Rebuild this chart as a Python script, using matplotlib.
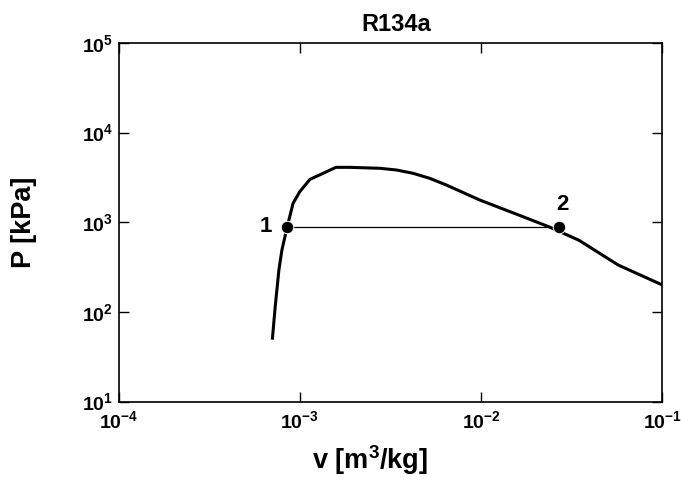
import matplotlib
matplotlib.use('Agg')
import matplotlib.pyplot as plt

plt.rcParams['font.family'] = ['Liberation Sans', 'DejaVu Sans']
plt.rcParams['font.weight'] = 'bold'
plt.rcParams['mathtext.fontset'] = 'custom'
plt.rcParams['mathtext.rm'] = 'Liberation Sans:bold'
plt.rcParams['mathtext.it'] = 'Liberation Sans:bold'
plt.rcParams['mathtext.bf'] = 'Liberation Sans:bold'
plt.rcParams['mathtext.default'] = 'regular'

# saturation dome
v_sat = [7.05e-4, 7.3e-4, 7.65e-4, 7.95e-4, 8.5e-4, 9.16e-4, 9.97e-4, 1.135e-3,
         1.315e-3, 1.58e-3, 1.89e-3, 2.76e-3, 3.41e-3, 4.22e-3, 5.21e-3, 6.44e-3,
         9.84e-3, 1.57e-2, 2.37e-2, 3.47e-2, 5.72e-2, 1.0e-1]
P_sat = [51, 114, 293, 490, 890, 1626, 2190, 3011,
         3451, 4100, 4100, 4000, 3830, 3514, 3090, 2600,
         1770, 1230, 890, 630, 333, 200]

# state points
v_pts = [8.5e-4, 2.69e-2]
P_pts = [890, 890]
pt_labels = ['1', '2']

fig = plt.figure(figsize=(6.81, 4.80), dpi=100)
ax = fig.add_axes([0.1745, 0.1635, 0.7979, 0.7469])

ax.plot(v_sat, P_sat, color='black', linewidth=2.2)
ax.plot(v_pts, P_pts, color='black', linewidth=0.9)
ax.plot(v_pts, P_pts, 'o', color='black', markersize=9, markeredgecolor='white',
        markeredgewidth=0.7, linestyle='none')

ax.text(v_pts[0] / 1.22, P_pts[0], pt_labels[0], ha='right', va='center',
        fontsize=16, fontweight='bold')
ax.text(v_pts[1] * 1.05, P_pts[1] * 1.37, pt_labels[1], ha='center', va='bottom',
        fontsize=16, fontweight='bold')

ax.set_xscale('log')
ax.set_yscale('log')
ax.set_xlim(1e-4, 1e-1)
ax.set_ylim(1e1, 1e5)
ax.minorticks_off()
ax.set_xticks([1e-4, 1e-3, 1e-2, 1e-1])
ax.set_xticklabels([r'$10^{-4}$', r'$10^{-3}$', r'$10^{-2}$', r'$10^{-1}$'])
ax.set_yticks([1e1, 1e2, 1e3, 1e4, 1e5])
ax.set_yticklabels([r'$10^{1}$', r'$10^{2}$', r'$10^{3}$', r'$10^{4}$', r'$10^{5}$'])
ax.tick_params(which='both', direction='in', top=True, right=True,
               length=7, width=1, labelsize=14)
ax.tick_params(axis='x', pad=6)
ax.tick_params(axis='y', pad=4)
for s in ax.spines.values():
    s.set_linewidth(1.2)

ax.set_xlabel(r'v [m$^3$/kg]', fontsize=19.5, fontweight='bold', labelpad=6)
ax.xaxis.set_label_coords(0.463, -0.115)
ax.set_ylabel('P [kPa]', fontsize=19.5, fontweight='bold')
ax.yaxis.set_label_coords(-0.15, 0.5)
ax.set_title('R134a', fontsize=17, fontweight='bold', pad=9, x=0.511)

fig.savefig('out.png', dpi=100)
